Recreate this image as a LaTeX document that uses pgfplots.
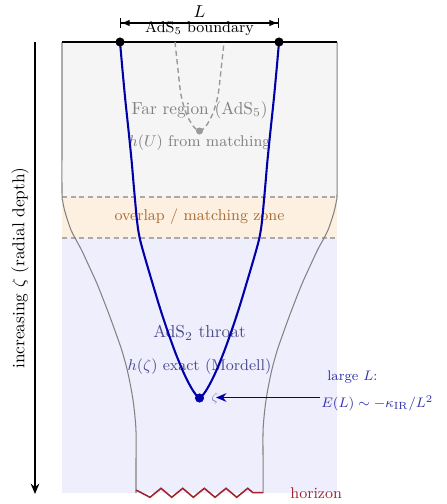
\documentclass[border=0pt]{standalone}
\usepackage{pgfplots}
\pgfplotsset{compat=1.18}
\usetikzlibrary{arrows.meta}
\definecolor{farfill}{RGB}{245,245,245}
\definecolor{ovfill}{RGB}{253,240,224}
\definecolor{throatfill}{RGB}{238,238,252}
\definecolor{navyc}{RGB}{0,0,170}
\definecolor{ovtext}{RGB}{165,110,55}
\definecolor{throattext}{RGB}{75,75,140}
\definecolor{annot}{RGB}{50,50,170}
\definecolor{horiz}{RGB}{160,35,45}
\definecolor{outlinec}{RGB}{130,130,130}
\definecolor{dashc}{RGB}{170,170,170}
\definecolor{fartext}{RGB}{128,128,128}
\begin{document}
\begin{tikzpicture}
\begin{axis}[scale only axis, width=257.8pt, height=291.3pt,
  xmin=0, xmax=446, ymin=0, ymax=504, y dir=reverse,
  hide axis, clip=false]
\addplot[draw=none] coordinates {(0,0) (446,504)};
% region fills
\addplot[fill=farfill, draw=none] coordinates {(62,42) (337,42) (337,197) (62,197)} -- cycle;
\addplot[fill=ovfill, draw=none] coordinates {(62,197) (337,197) (337,238) (62,238)} -- cycle;
\addplot[fill=throatfill, draw=none] coordinates {(62,238) (337,238) (337,493) (62,493)} -- cycle;
% separators
\addplot[dashc, line width=0.7pt, dash pattern=on 3pt off 2pt] coordinates {(62,197) (337,197)};
\addplot[dashc, line width=0.7pt, dash pattern=on 3pt off 2pt] coordinates {(62,238) (337,238)};
% texts
\node[font=\normalsize] at (axis cs:199.5,12) {$L$};
\node[font=\small] at (axis cs:199.5,29) {AdS$_5$ boundary};
\node[font=\normalsize, text=fartext] at (axis cs:199.5,110) {Far region (AdS$_5$)};
\node[font=\small, text=fartext] at (axis cs:199.5,143) {$h(U)$ from matching};
\node[font=\small, text=ovtext] at (axis cs:199.5,217) {overlap / matching zone};
\node[font=\normalsize, text=throattext] at (axis cs:199.5,333) {AdS$_2$ throat};
\node[font=\small, text=throattext] at (axis cs:199.5,367) {$h(\zeta)$ exact (Mordell)};
\node[font=\footnotesize, text=annot, anchor=west, inner sep=0pt] at (axis cs:327,377) {large $L$:};
\node[font=\footnotesize, text=annot, anchor=west, inner sep=0pt] at (axis cs:321,403) {$E(L)\sim-\kappa_{\mathrm{IR}}/L^2$};
\node[font=\small, text=horiz, anchor=west, inner sep=0pt] at (axis cs:290,493) {horizon};
\node[font=\normalsize, rotate=90] at (axis cs:20,268) {increasing $\zeta$ (radial depth)};
\node[font=\scriptsize, text=annot!60] at (axis cs:215,398) {$\zeta$};
% gray outline
\addplot[outlinec, line width=0.6pt, smooth] coordinates {(62,42) (62,120) (62,192) (62.5,200) (64.5,210) (67.5,220) (71,230) (75,238) (81.5,250) (88.5,265) (96.7,283) (103.5,300) (110,317) (116.5,335) (121.7,350) (126.5,367) (130,383) (133,400) (135,417) (136,432) (136,460) (136,493)};
\addplot[outlinec, line width=0.6pt, smooth] coordinates {(337,42) (337,120) (337,192) (336.5,200) (334.5,210) (331.5,220) (328,230) (324,238) (317.5,250) (310.5,265) (302.3,283) (295.5,300) (289,317) (282.5,335) (277.3,350) (272.5,367) (269,383) (266,400) (264,417) (263,432) (263,460) (263,493)};
% horizon zigzag
\addplot[horiz, line width=0.9pt, line join=miter] coordinates {(136,490) (150,497.3) (161,488.3) (171.7,497.3) (182.7,488.3) (193.3,497.3) (204.3,488.3) (215,497.3) (226,488.3) (236.7,497.3) (247.7,488.3) (253,492.7) (263,492.7)};
% boundary
\addplot[black, line width=0.9pt] coordinates {(62,42) (337,42)};
% L dimension arrow
\addplot[black, line width=0.6pt, {Bar[width=6pt]Latex[length=5pt]}-{Latex[length=5pt]Bar[width=6pt]}] coordinates {(120,23) (279,23)};
% dashed AdS5 curve
\addplot[dashc!90!black, line width=0.8pt, dash pattern=on 3pt off 2pt, smooth] coordinates {(175,42) (178,70) (181,95) (186,113) (193,126) (199.5,131) (206,126) (213,113) (218,95) (221,70) (224,42)};
\addplot[only marks, mark=*, mark size=1.8pt, color=dashc!90!black] coordinates {(199.5,131)};
% blue geodesic
\addplot[navyc, line width=1.2pt, smooth] coordinates {(120.0,42) (122.3,68) (125.0,97) (127.2,118) (129.3,138) (131.8,163) (133.5,183) (135.3,203) (136.7,218) (138.2,230) (140.6,242) (146.2,262) (152.7,284) (158.7,304) (164.5,322) (170.0,338) (175.1,352) (179.9,364) (184.2,374) (188.1,382) (191.4,388) (193.9,392) (196.1,395) (198.0,397) (199.5,398) (201.0,397) (202.9,395) (205.1,392) (207.6,388) (210.9,382) (214.8,374) (219.1,364) (223.9,352) (229.0,338) (234.5,322) (240.3,304) (246.3,284) (252.8,262) (258.4,242) (260.8,230) (262.3,218) (263.7,203) (265.5,183) (267.2,163) (269.7,138) (271.8,118) (274.0,97) (276.7,68) (279.0,42)};
\addplot[only marks, mark=*, mark size=2.4pt, color=navyc] coordinates {(199.5,398)};
\addplot[only marks, mark=*, mark size=2.4pt, color=black] coordinates {(120,42) (279,42)};
% large-L arrow
\addplot[navyc, line width=0.9pt, -{Stealth[length=6pt,width=5pt]}] coordinates {(320,397.5) (216,397.5)};
% radial depth arrow
\addplot[black, line width=0.8pt, -{Stealth[length=6pt,width=5pt]}] coordinates {(35,42) (35,494)};
\end{axis}
\end{tikzpicture}
\end{document}
